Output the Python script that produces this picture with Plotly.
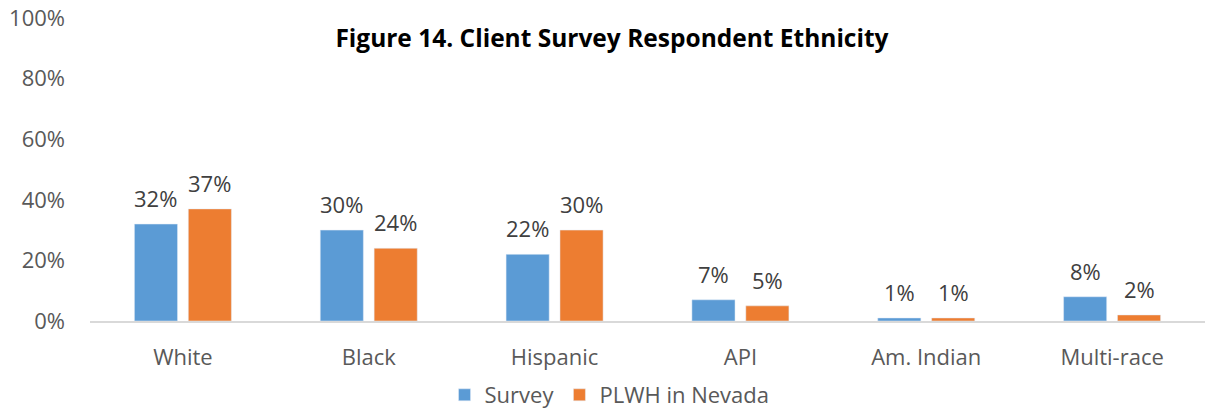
import plotly.graph_objects as go

categories = ["White", "Black", "Hispanic", "API", "Am. Indian", "Multi-race"]
survey = [0.32, 0.30, 0.22, 0.07, 0.01, 0.08]
plwh = [0.37, 0.24, 0.30, 0.05, 0.01, 0.02]

font_family = "Open Sans"
grey = "#595959"
label_color = "#404040"

fig = go.Figure()
fig.add_trace(go.Bar(name="Survey", x=categories, y=survey, marker_color="#5B9BD5"))
fig.add_trace(go.Bar(name="PLWH in Nevada", x=categories, y=plwh, marker_color="#ED7D31"))

# value labels, sitting a bit above each bar like the Excel original
for vals, shift in [(survey, -27), (plwh, 27)]:
    for cat, v in zip(categories, vals):
        fig.add_annotation(x=cat, y=v, text=f"{v:.0%}", showarrow=False,
                           xshift=shift, yshift=26, yanchor="middle",
                           font=dict(size=22, color=label_color))

fig.update_layout(
    width=1207, height=408,
    margin=dict(l=90, r=2, t=18, b=87),
    paper_bgcolor="white", plot_bgcolor="white",
    font=dict(family=font_family, color=grey, size=22),
    barmode="group", bargap=0.42, bargroupgap=0.2,
    title=dict(text="<b>Figure 14. Client Survey Respondent Ethnicity</b>",
               x=0.507, xanchor="center", y=1 - 38 / 408, yanchor="middle",
               yref="container", font=dict(size=24.5, color="black")),
    legend=dict(orientation="h", x=0.505, xanchor="center", xref="container",
                y=1 - 395 / 408, yanchor="middle", yref="container",
                font=dict(size=22, color=grey), itemwidth=30),
    xaxis=dict(showline=True, linecolor="#d9d9d9", linewidth=2, ticks="",
               ticklabelstandoff=16, tickfont=dict(size=22, color=grey)),
    yaxis=dict(range=[0, 1], dtick=0.2, tickformat=".0%", showgrid=False,
               zeroline=False, ticklabelstandoff=24, tickfont=dict(size=22, color=grey)),
)

fig.write_html("out.html", config={"displayModeBar": False},
               post_script="document.body.style.margin='0';")
